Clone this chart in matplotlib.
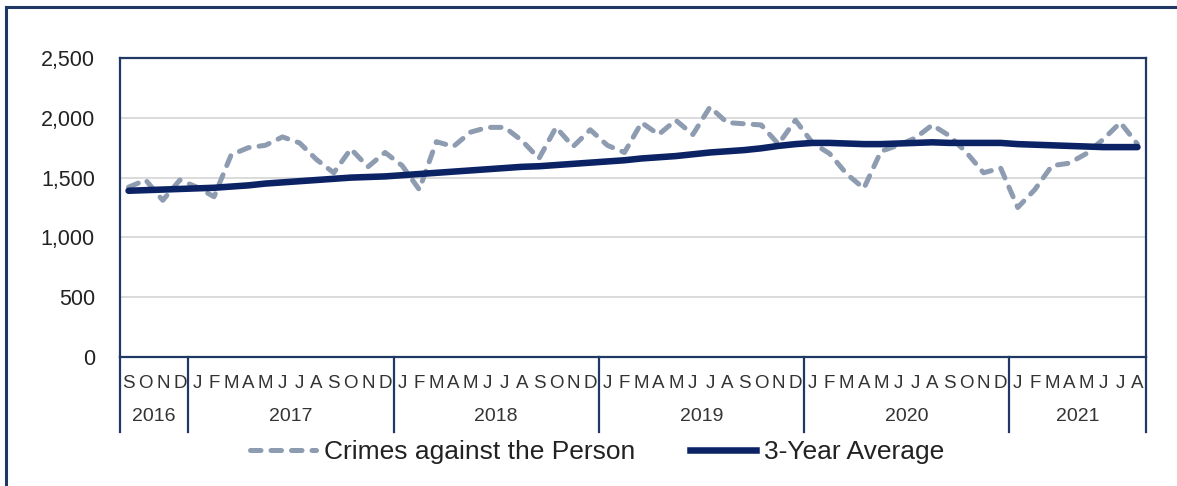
import matplotlib
matplotlib.use("Agg")
import matplotlib.pyplot as plt
from matplotlib.lines import Line2D
import matplotlib.transforms as mtransforms

plt.rcParams['font.family'] = ['Liberation Sans', 'DejaVu Sans']

# ---- data ----
month_letters = ["S", "O", "N", "D"] + ["J", "F", "M", "A", "M", "J", "J", "A", "S", "O", "N", "D"] * 4 + \
                ["J", "F", "M", "A", "M", "J", "J", "A"]
years = ["2016", "2017", "2018", "2019", "2020", "2021"]
months_per_year = [4, 12, 12, 12, 12, 8]

crimes = [1420, 1480, 1310, 1480,
          1420, 1340, 1690, 1750, 1770, 1840, 1790, 1650, 1540, 1740, 1590, 1710,
          1600, 1400, 1800, 1760, 1880, 1920, 1920, 1810, 1660, 1920, 1760, 1900,
          1770, 1710, 1960, 1860, 1980, 1860, 2090, 1960, 1950, 1940, 1780, 1980,
          1790, 1700, 1530, 1410, 1720, 1770, 1830, 1940, 1850, 1710, 1540, 1580,
          1250, 1400, 1600, 1620, 1700, 1820, 1960, 1780]
avg3 = [1390, 1395, 1400, 1405,
        1410, 1415, 1425, 1435, 1450, 1460, 1470, 1480, 1490, 1500, 1505, 1510,
        1520, 1530, 1540, 1550, 1560, 1570, 1580, 1590, 1595, 1605, 1615, 1625,
        1635, 1645, 1660, 1670, 1680, 1695, 1710, 1720, 1730, 1745, 1765, 1780,
        1790, 1790, 1785, 1780, 1780, 1785, 1790, 1795, 1790, 1790, 1790, 1790,
        1780, 1775, 1770, 1765, 1760, 1755, 1755, 1755]
yticks = [0, 500, 1000, 1500, 2000, 2500]
series_names = ["Crimes against the Person", "3-Year Average"]

W, H = 1177, 486
fig = plt.figure(figsize=(W / 100, H / 100), dpi=100)
L, R, T, B = 120, 1146, 58, 357
ax = fig.add_axes([L / W, 1 - B / H, (R - L) / W, (B - T) / H])

navy = "#1f3864"
line_navy = "#0b2265"
dash_col = "#8e9cb1"
DASH = (2.1, 2.0)

x = list(range(len(crimes)))
ax.plot(x, crimes, color=dash_col, lw=3.6, dashes=DASH,
        dash_capstyle='round', solid_capstyle='round', zorder=3)
ax.plot(x, avg3, color=line_navy, lw=4.7, solid_capstyle='round', zorder=4)

ax.set_xlim(-0.5, len(crimes) - 0.5)
ax.set_ylim(0, 2500)
ax.set_yticks(yticks)
ax.set_yticklabels([f"{v:,}" for v in yticks], fontsize=15.5, color="#222222")
ax.tick_params(axis='y', length=0, pad=18)
ax.set_xticks([])
ax.grid(axis='y', color="#d4d4d4", lw=1.2)
ax.set_axisbelow(True)
for s in ax.spines.values():
    s.set_color(navy)
    s.set_linewidth(1.6)

# month letters
trans = mtransforms.blended_transform_factory(ax.transData, ax.transAxes)
ph = B - T
y_month = -(383 - B) / ph
y_year = -(416 - B) / ph
y_sep = -(432 - B) / ph
for i, m in enumerate(month_letters):
    ax.text(i, y_month, m, transform=trans, ha='center', va='center',
            fontsize=13.5, color="#333333")

# year labels and separators
start = 0
bounds = [-0.5]
for yr, n in zip(years, months_per_year):
    ax.text(start + (n - 1) / 2, y_year, yr, transform=trans, ha='center',
            va='center', fontsize=14, color="#333333")
    start += n
    bounds.append(start - 0.5)
for b in bounds:
    ax.add_line(Line2D([b, b], [0, y_sep], transform=trans, color=navy,
                       lw=1.6, clip_on=False))

# legend
handles = [Line2D([], [], color=dash_col, lw=3.6, dashes=DASH, dash_capstyle='round'),
           Line2D([], [], color=line_navy, lw=4.7)]
fig.legend(handles, series_names, loc='center', bbox_to_anchor=(597 / W, 1 - 452 / H),
           ncol=2, frameon=False, fontsize=19, handlelength=2.5,
           handletextpad=0.3, columnspacing=2.1, labelcolor="#222222")

# outer border (left and top)
fig.add_artist(Line2D([6 / W, 6 / W], [0, 1 - 7 / H], transform=fig.transFigure,
                      color=navy, lw=2.2))
fig.add_artist(Line2D([6 / W, 1], [1 - 7 / H, 1 - 7 / H], transform=fig.transFigure,
                      color=navy, lw=2.2))

fig.savefig("out.png", dpi=100)
